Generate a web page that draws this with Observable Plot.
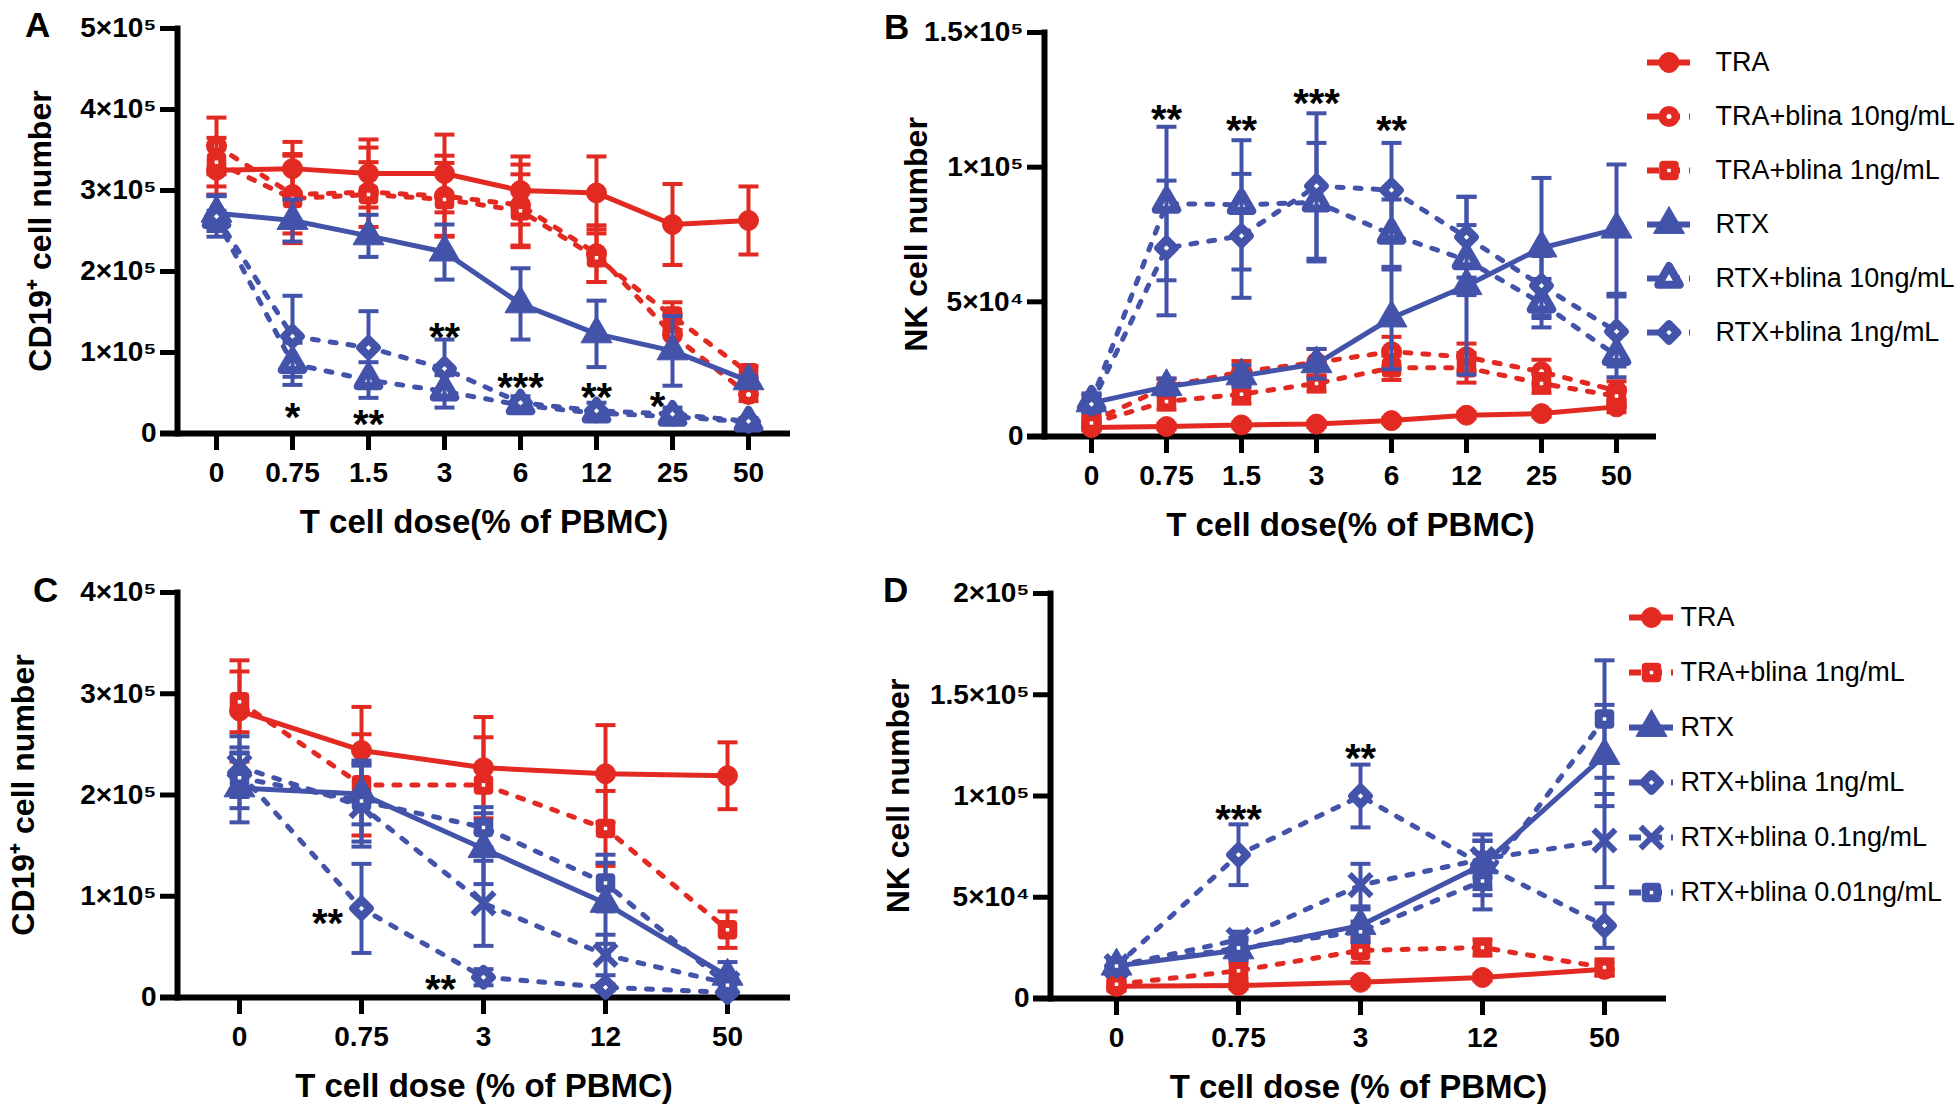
<!DOCTYPE html>
<html><head><meta charset="utf-8">
<script src="https://cdn.jsdelivr.net/npm/d3@7"></script>
<script src="https://cdn.jsdelivr.net/npm/@observablehq/plot@0.6"></script>
<style>
body{margin:0;background:#fff;}
#root{position:relative;width:1960px;height:1104px;overflow:hidden;font-family:Arial,"Liberation Sans",sans-serif;background:#fff;}
.panel{position:absolute;}
.panel svg{display:block;overflow:visible;}
.tag{position:absolute;font-weight:bold;font-size:35px;line-height:1;color:#000;}
</style></head><body><div id="root"></div>
<script>
const RED = "#e22a22", BLUE = "#4453aa";

// ---------- Panel A : CD19+ cell number (x10^5) ----------
const dosesA = ["0","0.75","1.5","3","6","12","25","50"];
const A_TRA      = [3.25,3.27,3.21,3.21,3.00,2.97,2.58,2.63];
const A_TRA_sd   = [0.30,0.33,0.42,0.48,0.42,0.45,0.50,0.42];
const A_TRA10    = [3.55,2.95,2.98,2.93,2.82,2.22,1.22,0.48];
const A_TRA10_sd = [0.35,0.48,0.55,0.50,0.50,0.35,0.25,0.08];
const A_TRA1     = [3.35,2.90,2.95,2.89,2.75,2.17,1.45,0.75];
const A_TRA1_sd  = [0.30,0.55,0.40,0.45,0.45,0.30,0.17,0.08];
const A_RTX      = [2.72,2.63,2.44,2.24,1.60,1.23,1.02,0.65];
const A_RTX_sd   = [0.22,0.26,0.26,0.34,0.44,0.41,0.43,0.05];
const A_RTX10    = [2.65,0.86,0.66,0.52,0.35,0.25,0.21,0.14];
const A_RTX10_sd = [0.10,0.26,0.22,0.20,0.06,0.05,0.05,0.03];
const A_RTX1     = [2.68,1.20,1.06,0.80,0.38,0.28,0.24,0.15];
const A_RTX1_sd  = [0.25,0.50,0.45,0.36,0.08,0.10,0.08,0.04];
const yTicksA  = [0,1e5,2e5,3e5,4e5,5e5];
const yLabelsA = ["0","1×10⁵","2×10⁵","3×10⁵","4×10⁵","5×10⁵"];
const starsA = [
  {dose:"0.75", y:0.31, label:"*",   dx:0},
  {dose:"1.5",  y:0.22, label:"**",  dx:0},
  {dose:"3",    y:1.30, label:"**",  dx:0},
  {dose:"6",    y:0.68, label:"***", dx:0},
  {dose:"12",   y:0.56, label:"**",  dx:0},
  {dose:"25",   y:0.45, label:"*",   dx:-15}
];

// ---------- Panel B : NK cell number (x10^4) ----------
const dosesB = ["0","0.75","1.5","3","6","12","25","50"];
const B_TRA      = [0.33,0.37,0.43,0.46,0.59,0.79,0.85,1.10];
const B_TRA_sd   = [0.10,0.10,0.10,0.10,0.10,0.12,0.12,0.20];
const B_TRA10    = [0.55,1.85,2.40,2.75,3.15,2.95,2.40,1.70];
const B_TRA10_sd = [0.25,0.30,0.40,0.50,0.55,0.50,0.45,0.35];
const B_TRA1     = [0.50,1.30,1.57,1.97,2.55,2.55,1.97,1.50];
const B_TRA1_sd  = [0.20,0.30,0.35,0.30,0.45,0.55,0.35,0.30];
const B_RTX      = [1.25,1.85,2.25,2.70,4.40,5.60,7.00,7.70];
const B_RTX_sd   = [0.30,0.30,0.40,0.55,1.90,3.30,2.60,2.40];
const B_RTX10    = [1.30,8.65,8.60,8.70,7.50,6.55,4.95,3.00];
const B_RTX10_sd = [0.30,2.85,2.40,2.20,1.30,1.30,0.90,0.80];
const B_RTX1     = [1.20,7.00,7.45,9.30,9.15,7.40,5.60,3.90];
const B_RTX1_sd  = [0.30,2.50,2.30,2.70,1.75,1.50,1.10,1.30];
const yTicksB  = [0,5e4,1e5,1.5e5];
const yLabelsB = ["0","5×10⁴","1×10⁵","1.5×10⁵"];
const starsB = [
  {dose:"0.75", y:12.1, label:"**",  dx:0},
  {dose:"1.5",  y:11.7, label:"**",  dx:0},
  {dose:"3",    y:12.7, label:"***", dx:0},
  {dose:"6",    y:11.7, label:"**",  dx:0}
];

// ---------- Panel C : CD19+ cell number (x10^5) ----------
const dosesC = ["0","0.75","3","12","50"];
const C_TRA       = [2.83,2.44,2.27,2.21,2.19];
const C_TRA_sd    = [0.50,0.43,0.50,0.48,0.33];
const C_TRA1      = [2.92,2.10,2.10,1.67,0.67];
const C_TRA1_sd   = [0.30,0.50,0.47,0.37,0.18];
const C_RTX       = [2.07,2.01,1.47,0.93,0.21];
const C_RTX_sd    = [0.34,0.30,0.35,0.40,0.14];
const C_RTX1      = [2.22,0.88,0.20,0.10,0.05];
const C_RTX1_sd   = [0.20,0.44,0.08,0.03,0.02];
const C_RTX01     = [2.28,1.89,0.93,0.42,0.14];
const C_RTX01_sd  = [0.30,0.40,0.42,0.20,0.08];
const C_RTX001    = [2.17,1.94,1.68,1.13,0.12];
const C_RTX001_sd = [0.30,0.40,0.20,0.28,0.10];
const yTicksC  = [0,1e5,2e5,3e5,4e5];
const yLabelsC = ["0","1×10⁵","2×10⁵","3×10⁵","4×10⁵"];
const starsC = [
  {dose:"0.75", y:0.82, label:"**", dx:-34},
  {dose:"3",    y:0.17, label:"**", dx:-43}
];

// ---------- Panel D : NK cell number (x10^4) ----------
const dosesD = ["0","0.75","3","12","50"];
const D_TRA       = [0.60,0.64,0.80,1.04,1.44];
const D_TRA_sd    = [0.20,0.15,0.15,0.15,0.30];
const D_TRA1      = [0.70,1.37,2.37,2.52,1.53];
const D_TRA1_sd   = [0.20,0.40,0.60,0.40,0.40];
const D_RTX       = [1.60,2.40,3.60,6.60,12.0];
const D_RTX_sd    = [0.30,0.50,0.80,1.50,2.50];
const D_RTX1      = [1.60,7.10,10.0,6.60,3.60];
const D_RTX1_sd   = [0.30,1.50,1.55,1.20,1.10];
const D_RTX01     = [1.60,2.90,5.60,6.88,7.80];
const D_RTX01_sd  = [0.30,0.40,1.05,0.90,2.30];
const D_RTX001    = [1.60,2.50,3.30,5.80,13.8];
const D_RTX001_sd = [0.30,0.50,0.50,1.40,2.90];
const yTicksD  = [0,5e4,1e5,1.5e5,2e5];
const yLabelsD = ["0","5×10⁴","1×10⁵","1.5×10⁵","2×10⁵"];
const starsD = [
  {dose:"0.75", y:9.3,  label:"***", dx:0},
  {dose:"3",    y:12.3, label:"**",  dx:0}
];

// ---------- series styles ----------
const STYLE = {
  "TRA":                  {color:RED,  dashed:false, symbol:"circle",   open:false},
  "TRA+blina 10ng/mL":    {color:RED,  dashed:true,  symbol:"circle",   open:true},
  "TRA+blina 1ng/mL":     {color:RED,  dashed:true,  symbol:"square",   open:true},
  "RTX":                  {color:BLUE, dashed:false, symbol:"triangle", open:false},
  "RTX+blina 10ng/mL":    {color:BLUE, dashed:true,  symbol:"triangle", open:true},
  "RTX+blina 1ng/mL":     {color:BLUE, dashed:true,  symbol:"diamond2", open:true},
  "RTX+blina 0.1ng/mL":   {color:BLUE, dashed:true,  symbol:"times",    open:false},
  "RTX+blina 0.01ng/mL":  {color:BLUE, dashed:true,  symbol:"square",   open:true}
};
const FONT = "Arial, 'Liberation Sans', sans-serif";
const capSymbol = {draw(ctx){ ctx.moveTo(-10,0); ctx.lineTo(10,0); }};

function markerOpts(st){
  const r = st.symbol==="triangle" ? 11.5 : st.symbol==="times" ? 10 : st.symbol==="diamond2" ? 11 : 10;
  if (st.symbol==="times") return {symbol:"times", r, stroke:st.color, fill:"none", strokeWidth:6};
  return {symbol:st.symbol, r: st.open ? r-3.5 : r, fill: st.open ? "white" : st.color,
          stroke:st.color, strokeWidth: st.open ? 8 : 1, strokeLinejoin:"round"};
}

function panel(cfg){
  const marks = [];
  marks.push(Plot.ruleY([0], {strokeWidth:6, insetLeft:-17, stroke:"#000"}));
  marks.push(Plot.frame({anchor:"left", strokeWidth:6, stroke:"#000"}));
  marks.push(Plot.axisY({ticks:cfg.yTicks, tickFormat:d=>cfg.yLabels[cfg.yTicks.indexOf(d)],
    tickSize:17, tickPadding:4, fontSize:28, fontWeight:"bold", strokeWidth:5, label:null}));
  marks.push(Plot.axisX({tickSize:17, tickPadding:12, fontSize:28, fontWeight:"bold", strokeWidth:5, label:null}));
  for (const s of cfg.series){
    const st = STYLE[s.name];
    const rows = cfg.doses.map((d,i)=>({dose:d, v:s.values[i]*cfg.unit,
      lo:Math.max(0,(s.values[i]-s.sd[i]))*cfg.unit, hi:(s.values[i]+s.sd[i])*cfg.unit}));
    marks.push(Plot.ruleX(rows, {x:"dose", y1:"lo", y2:"hi", stroke:st.color, strokeWidth:4}));
    marks.push(Plot.dot(rows, {x:"dose", y:"hi", symbol:capSymbol, r:5, stroke:st.color, strokeWidth:4, fill:"none"}));
    marks.push(Plot.dot(rows, {x:"dose", y:"lo", symbol:capSymbol, r:5, stroke:st.color, strokeWidth:4, fill:"none"}));
    marks.push(Plot.line(rows, {x:"dose", y:"v", stroke:st.color, strokeWidth:5,
      strokeDasharray: st.dashed ? "6,12" : undefined, strokeLinecap: st.dashed ? "round" : "butt"}));
    marks.push(Plot.dot(rows, {x:"dose", y:"v", ...markerOpts(st)}));
  }
  for (const s of cfg.stars){
    marks.push(Plot.text([s], {x:"dose", y:d=>d.y*cfg.unit, text:"label", dx:s.dx, dy:10,
      fontSize:40, fontWeight:"bold", fill:"#000"}));
  }
  marks.push(Plot.text([cfg.xLabel], {text:d=>d, frameAnchor:"bottom", textAnchor:"middle", lineAnchor:"middle",
    dy:89, fontSize:33, fontWeight:"bold", fill:"#000"}));
  marks.push(Plot.text([cfg.yLabel], {text:d=>d, frameAnchor:"left", textAnchor:"middle", lineAnchor:"middle",
    rotate:-90, dx:cfg.yLabelDx, fontSize:32, fontWeight:"bold", fill:"#000"}));
  return Plot.plot({
    width:cfg.width, height:cfg.height,
    marginLeft:cfg.m[0], marginTop:cfg.m[1], marginRight:cfg.m[2], marginBottom:cfg.m[3],
    x:{type:"point", domain:cfg.doses, padding:0, insetLeft:cfg.inset[0], insetRight:cfg.inset[1]},
    y:{domain:[0, cfg.yTicks[cfg.yTicks.length-1]], nice:false},
    style:{fontFamily:FONT, color:"#000", background:"transparent", overflow:"visible"},
    marks
  });
}

function legend(cfg){
  const names = cfg.names;
  const marks = [];
  for (const n of names){
    const st = STYLE[n];
    marks.push(Plot.ruleY([n], {y:d=>d, x1:0, x2:1, stroke:st.color, strokeWidth:6,
      strokeDasharray: st.dashed ? "12,9" : undefined}));
    marks.push(Plot.dot([n], {y:d=>d, x:0.5, ...markerOpts(st)}));
  }
  marks.push(Plot.text(names, {y:d=>d, x:1, dx:cfg.textDx, text:d=>d, textAnchor:"start", fontSize:27, fill:"#000"}));
  return Plot.plot({
    width:cfg.width, height:cfg.height, margin:0,
    x:{domain:[0,1], range:cfg.xRange, axis:null},
    y:{type:"point", domain:names, range:cfg.yRange, padding:0, axis:null},
    style:{fontFamily:FONT, color:"#000", background:"transparent", overflow:"visible"},
    marks
  });
}

const root = document.getElementById("root");
function place(el, left, top){
  const d = document.createElement("div"); d.className="panel";
  d.style.left=left+"px"; d.style.top=top+"px"; d.appendChild(el); root.appendChild(d);
}
function tag(t, left, top){
  const d = document.createElement("div"); d.className="tag"; d.textContent=t;
  d.style.left=left+"px"; d.style.top=top+"px"; root.appendChild(d);
}

place(panel({
  width:880, height:550, m:[177,28,90,117], inset:[39,42], unit:1e5,
  doses:dosesA, yTicks:yTicksA, yLabels:yLabelsA, stars:starsA,
  xLabel:"T cell dose(% of PBMC)", yLabel:"CD19⁺ cell number", yLabelDx:-137,
  series:[
    {name:"TRA", values:A_TRA, sd:A_TRA_sd},
    {name:"TRA+blina 10ng/mL", values:A_TRA10, sd:A_TRA10_sd},
    {name:"TRA+blina 1ng/mL", values:A_TRA1, sd:A_TRA1_sd},
    {name:"RTX", values:A_RTX, sd:A_RTX_sd},
    {name:"RTX+blina 10ng/mL", values:A_RTX10, sd:A_RTX10_sd},
    {name:"RTX+blina 1ng/mL", values:A_RTX1, sd:A_RTX1_sd}
  ]}), 0, 0);

place(panel({
  width:1080, height:550, m:[164,32,304,114], inset:[44,38], unit:1e4,
  doses:dosesB, yTicks:yTicksB, yLabels:yLabelsB, stars:starsB,
  xLabel:"T cell dose(% of PBMC)", yLabel:"NK cell number", yLabelDx:-128,
  series:[
    {name:"TRA", values:B_TRA, sd:B_TRA_sd},
    {name:"TRA+blina 10ng/mL", values:B_TRA10, sd:B_TRA10_sd},
    {name:"TRA+blina 1ng/mL", values:B_TRA1, sd:B_TRA1_sd},
    {name:"RTX", values:B_RTX, sd:B_RTX_sd},
    {name:"RTX+blina 10ng/mL", values:B_RTX10, sd:B_RTX10_sd},
    {name:"RTX+blina 1ng/mL", values:B_RTX1, sd:B_RTX1_sd}
  ]}), 880, 0);

place(panel({
  width:880, height:554, m:[177,42,90,107], inset:[61,63], unit:1e5,
  doses:dosesC, yTicks:yTicksC, yLabels:yLabelsC, stars:starsC,
  xLabel:"T cell dose (% of PBMC)", yLabel:"CD19⁺ cell number", yLabelDx:-154,
  series:[
    {name:"TRA", values:C_TRA, sd:C_TRA_sd},
    {name:"TRA+blina 1ng/mL", values:C_TRA1, sd:C_TRA1_sd},
    {name:"RTX", values:C_RTX, sd:C_RTX_sd},
    {name:"RTX+blina 1ng/mL", values:C_RTX1, sd:C_RTX1_sd},
    {name:"RTX+blina 0.1ng/mL", values:C_RTX01, sd:C_RTX01_sd},
    {name:"RTX+blina 0.01ng/mL", values:C_RTX001, sd:C_RTX001_sd}
  ]}), 0, 550);

place(panel({
  width:1080, height:554, m:[170,43,294,106], inset:[65,62], unit:1e4,
  doses:dosesD, yTicks:yTicksD, yLabels:yLabelsD, stars:starsD,
  xLabel:"T cell dose (% of PBMC)", yLabel:"NK cell number", yLabelDx:-152,
  series:[
    {name:"TRA", values:D_TRA, sd:D_TRA_sd},
    {name:"TRA+blina 1ng/mL", values:D_TRA1, sd:D_TRA1_sd},
    {name:"RTX", values:D_RTX, sd:D_RTX_sd},
    {name:"RTX+blina 1ng/mL", values:D_RTX1, sd:D_RTX1_sd},
    {name:"RTX+blina 0.1ng/mL", values:D_RTX01, sd:D_RTX01_sd},
    {name:"RTX+blina 0.01ng/mL", values:D_RTX001, sd:D_RTX001_sd}
  ]}), 880, 550);

place(legend({width:320, height:330, xRange:[7,50], yRange:[32,302], textDx:25,
  names:["TRA","TRA+blina 10ng/mL","TRA+blina 1ng/mL","RTX","RTX+blina 10ng/mL","RTX+blina 1ng/mL"]}), 1640, 30);
place(legend({width:340, height:320, xRange:[9,53], yRange:[27,302], textDx:7,
  names:["TRA","TRA+blina 1ng/mL","RTX","RTX+blina 1ng/mL","RTX+blina 0.1ng/mL","RTX+blina 0.01ng/mL"]}), 1620, 590);

tag("A", 25, 7);
tag("B", 884, 9);
tag("C", 33, 572);
tag("D", 883, 572);
</script></body></html>
